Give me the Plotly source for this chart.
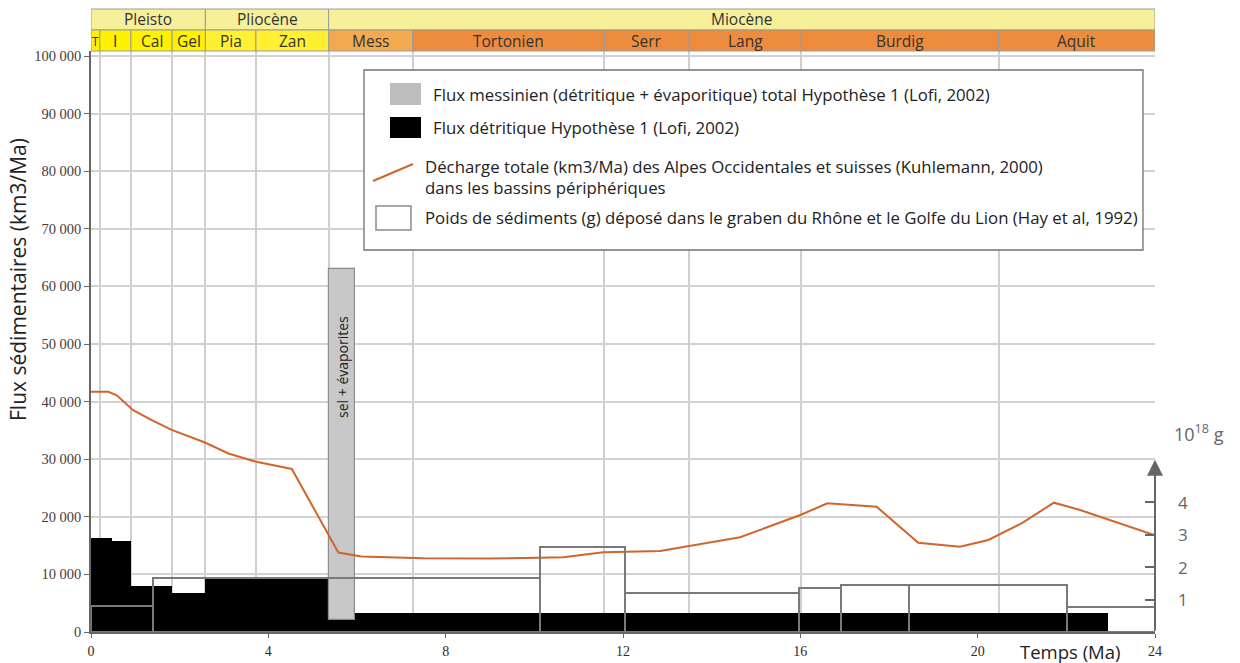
import plotly.graph_objects as go

# ---- geological time scale (Ma) ----
epoch_names = ["Pleisto", "Pliocène", "Miocène"]
epoch_bounds = [0.0, 2.58, 5.36, 24.0]
stage_names = ["T", "I", "Cal", "Gel", "Pia", "Zan", "Mess", "Tortonien",
               "Serr", "Lang", "Burdig", "Aquit"]
stage_bounds = [0.0, 0.2, 0.9, 1.83, 2.58, 3.72, 5.36, 7.26, 11.58, 13.49,
                16.02, 20.47, 24.0]

# ---- detrital flux, hypothesis 1 (km3/Ma) ----
detrital_start = [0.0, 0.47, 0.9, 1.83, 2.58, 5.36, 5.96]
detrital_end = [0.47, 0.9, 1.83, 2.58, 5.36, 5.96, 22.94]
detrital_flux = [16300, 15800, 8000, 6700, 9300, 2000, 3300]

# ---- Messinian total flux (detrital + evaporitic) ----
mess_start = [5.36]
mess_end = [5.96]
mess_base = [2000]
mess_total = [63000]

# ---- sediment weight, Rhône graben & Gulf of Lion (10^18 g) ----
sed_start = [0.0, 1.4, 10.12, 12.05, 15.96, 16.91, 18.44, 22.01]
sed_end = [1.4, 10.12, 12.05, 15.96, 16.91, 18.44, 22.01, 24.0]
sed_weight = [0.8, 1.67, 2.62, 1.21, 1.35, 1.46, 1.46, 0.77]

# ---- total discharge of the Western & Swiss Alps (km3/Ma) ----
discharge_age = [0, 0.39, 0.58, 0.95, 1.37, 1.82, 2.57, 3.1, 3.7, 4.23, 4.53,
                 5.58, 6.1, 7.5, 9.0, 10.1, 10.65, 11.56, 12.84, 14.64, 16.0,
                 16.61, 17.72, 18.66, 19.6, 20.24, 20.99, 21.72, 22.31, 24.0]
discharge_flux = [41700, 41700, 41100, 38500, 36800, 35100, 32900, 31000,
                  29600, 28700, 28300, 13800, 13100, 12800, 12750, 12900,
                  12970, 13840, 14060, 16440, 20310, 22340, 21750, 15500,
                  14800, 15970, 18870, 22450, 21180, 16800]

y_ticks = list(range(0, 100001, 10000))
y_ticktext = ["0"] + [f"{v // 1000} 000" for v in y_ticks[1:]]
x_ticks = [0, 4, 8, 12, 16, 20, 24]
right_ticks = [1, 2, 3, 4]

W, H = 1240, 663
L, R, T, B = 91, 85, 51, 31
PW, PH = W - L - R, H - T - B
Y_MAX = 100868
Y2_MAX = 17.88

SANS = "Open Sans"
SERIF = "Liberation Serif"


def px_x(px):
    return (px - L) / PW


def px_y(py):
    return (H - B - py) / PH


def mids(a, b):
    return [(s + e) / 2 for s, e in zip(a, b)]


def widths(a, b):
    return [e - s for s, e in zip(a, b)]


def label(x, y, text, size, color="#222", xref="paper", yref="paper",
          xanchor="center", angle=0, family=SANS):
    return dict(xref=xref, yref=yref, x=x, y=y, text=text, showarrow=False,
                xanchor=xanchor, yanchor="middle", textangle=angle,
                font=dict(family=family, size=size, color=color))


fig = go.Figure()

fig.add_trace(go.Bar(
    x=mids(detrital_start, detrital_end), y=detrital_flux,
    width=widths(detrital_start, detrital_end), base=0,
    marker=dict(color="black", line=dict(width=0)),
    showlegend=False, hoverinfo="skip"))

fig.add_trace(go.Bar(
    x=mids(mess_start, mess_end),
    y=[t - b for t, b in zip(mess_total, mess_base)], base=mess_base,
    width=widths(mess_start, mess_end),
    marker=dict(color="#c8c8c8", line=dict(color="#8c8c8c", width=1.2)),
    showlegend=False, hoverinfo="skip"))

fig.add_trace(go.Scatter(
    x=discharge_age, y=discharge_flux, mode="lines",
    line=dict(color="#d2652c", width=2),
    showlegend=False, hoverinfo="skip"))

fig.add_trace(go.Bar(
    x=mids(sed_start, sed_end), y=sed_weight,
    width=widths(sed_start, sed_end), base=0, yaxis="y2",
    marker=dict(color="rgba(0,0,0,0)", line=dict(color="#7a7a7a", width=2)),
    showlegend=False, hoverinfo="skip"))

shapes = []
annotations = []

# time-scale header
epoch_fill = "#f6f09a"
for name, a, b in zip(epoch_names, epoch_bounds[:-1], epoch_bounds[1:]):
    shapes.append(dict(type="rect", xref="x", yref="paper", x0=a, x1=b,
                       y0=px_y(30), y1=px_y(9), fillcolor=epoch_fill,
                       line=dict(color="#9a9a9a", width=1), layer="above"))
    annotations.append(label((a + b) / 2, px_y(19.5), name, 15.5, "#333",
                             xref="x"))

stage_colors = ["#fff200"] * 4 + ["#fff033"] * 2 + ["#f3a94f"] + ["#ee8c3d"] * 5
for name, a, b, c in zip(stage_names, stage_bounds[:-1], stage_bounds[1:],
                         stage_colors):
    shapes.append(dict(type="rect", xref="x", yref="paper", x0=a, x1=b,
                       y0=px_y(51), y1=px_y(30), fillcolor=c,
                       line=dict(color="#9a9a9a", width=1), layer="above"))
    annotations.append(label((a + b) / 2, px_y(41), name,
                             12 if name == "T" else 15.5, "#333", xref="x"))

# legend block
shapes.append(dict(type="rect", xref="paper", yref="paper",
                   x0=px_x(364), x1=px_x(1143), y0=px_y(250), y1=px_y(70),
                   fillcolor="white", line=dict(color="#707070", width=1.3),
                   layer="above"))
shapes.append(dict(type="rect", xref="paper", yref="paper",
                   x0=px_x(390), x1=px_x(421), y0=px_y(105), y1=px_y(83),
                   fillcolor="#bdbdbd", line=dict(width=0), layer="above"))
shapes.append(dict(type="rect", xref="paper", yref="paper",
                   x0=px_x(390), x1=px_x(421), y0=px_y(138), y1=px_y(117),
                   fillcolor="black", line=dict(width=0), layer="above"))
shapes.append(dict(type="line", xref="paper", yref="paper",
                   x0=px_x(373), x1=px_x(413), y0=px_y(181), y1=px_y(164),
                   line=dict(color="#d2652c", width=2), layer="above"))
shapes.append(dict(type="rect", xref="paper", yref="paper",
                   x0=px_x(376), x1=px_x(411), y0=px_y(230), y1=px_y(206),
                   fillcolor="white", line=dict(color="#8a8a8a", width=1.5),
                   layer="above"))

legend_lines = [
    (431, 95, "Flux messinien (détritique + évaporitique) total Hypothèse 1 (Lofi, 2002)"),
    (431, 128, "Flux détritique Hypothèse 1 (Lofi, 2002)"),
    (423, 166, "Décharge totale (km3/Ma) des Alpes Occidentales et suisses (Kuhlemann, 2000)"),
    (423, 187, "dans les bassins périphériques"),
    (423, 217, "Poids de sédiments (g) déposé dans le graben du Rhône et le Golfe du Lion (Hay et al, 1992)"),
]
for lx, ly, txt in legend_lines:
    annotations.append(label(px_x(lx), px_y(ly), txt, 16.8, xanchor="left"))

# label inside the Messinian bar
annotations.append(label(mids(mess_start, mess_end)[0], 46000,
                         "sel + évaporites", 14, xref="x", yref="y",
                         angle=-90))

# right-hand weight axis: arrow, tick labels and unit
annotations.append(dict(xref="x", yref="y2", x=24, y=5.3, axref="x",
                        ayref="y2", ax=24, ay=0, text="", showarrow=True,
                        arrowhead=2, arrowsize=1.6, arrowwidth=2,
                        arrowcolor="#666"))
for v in right_ticks:
    annotations.append(label(px_x(1183), v, str(v), 17, "#666", yref="y2"))
annotations.append(label(px_x(1199), px_y(433), "10<sup>18</sup> g", 18,
                         "#666"))

# axis titles
annotations.append(label(px_x(18), px_y(280), "Flux sédimentaires (km3/Ma)",
                         21, angle=-90))
annotations.append(label(px_x(1070), px_y(651), "Temps (Ma)", 18.5))

fig.update_layout(
    width=W, height=H,
    margin=dict(l=L, r=R, t=T, b=B, autoexpand=False),
    paper_bgcolor="white", plot_bgcolor="white",
    barmode="overlay", bargap=0,
    showlegend=False,
    xaxis=dict(range=[0, 24], tickvals=x_ticks,
               ticktext=[str(v) for v in x_ticks],
               showgrid=False, zeroline=False,
               showline=True, linecolor="#666", linewidth=1.5,
               ticks="outside", ticklen=4, tickcolor="#666",
               ticklabelstandoff=1,
               tickfont=dict(family=SERIF, size=14, color="#332828"),
               minor=dict(tickvals=stage_bounds[1:-1], showgrid=True,
                          gridcolor="#cfcfcf", gridwidth=1.5, ticks="")),
    yaxis=dict(range=[0, Y_MAX], tickvals=y_ticks, ticktext=y_ticktext,
               showgrid=True, gridcolor="#d2d2d2", gridwidth=1.5,
               zeroline=False, showline=True, linecolor="#666",
               linewidth=1.5, ticks="outside", ticklen=5, tickcolor="#666",
               tickfont=dict(family=SERIF, size=14.5, color="#4b3a3a")),
    yaxis2=dict(range=[0, Y2_MAX], overlaying="y", side="right",
                tickvals=right_ticks, showticklabels=False,
                showgrid=False, zeroline=False, showline=False,
                ticks="inside", ticklen=10, tickwidth=2, tickcolor="#666"),
    shapes=shapes,
    annotations=annotations,
)

fig.write_html("out.html")
